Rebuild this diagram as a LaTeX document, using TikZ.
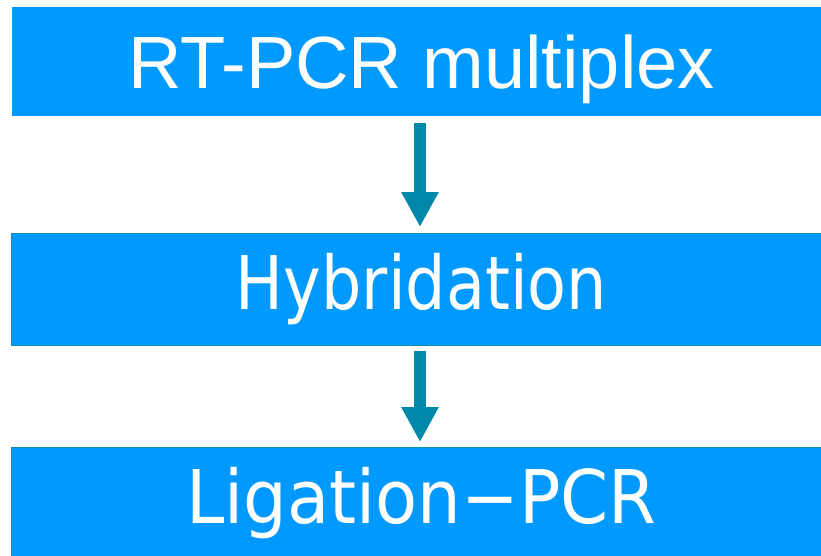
\documentclass[tikz,border=0pt]{standalone}
\usepackage{fontspec}
\usetikzlibrary{arrows.meta}
\newfontfamily\titlefont{Liberation Sans}
\newfontfamily\hybfont[FakeStretch=0.86]{DejaVu Sans}
\newfontfamily\ligfont[FakeStretch=0.93]{DejaVu Sans}
\definecolor{Azure Box}{RGB}{0, 153, 255}
\definecolor{Teal Edge}{RGB}{22, 140, 172}
\definecolor{Teal Arrow}{RGB}{0, 136, 170}

\tikzset{
  etapa/.style={fill=Azure Box, text=white, inner sep=0pt, outer sep=0pt,
    minimum width=819.5pt},
  flecha/.style={draw=Teal Arrow, line width=12pt,
    -{Triangle[width=35pt, length=35pt]}}
}

\begin{document}
\begin{tikzpicture}[x=1pt, y=-1pt]
	\useasboundingbox (0,0) rectangle (821,556);
	\clip (0,0) rectangle (821,556);
	% Dibuja las tres etapas
	\node[etapa, minimum height=109pt, text height=60pt, text depth=5pt,
	  font=\fontsize{74}{80}\selectfont\titlefont]
	  (rtpcr) at (421.5,61.5) {RT-PCR multiplex};
	\node[etapa, draw=Teal Edge, line width=1.3pt, minimum height=111.6pt,
	  text height=50pt, text depth=11pt,
	  font=\fontsize{74}{80}\selectfont\hybfont]
	  (hybrid) at (421.5,289.5) {Hybridation};
	\node[etapa, draw=Teal Edge, line width=1.3pt, minimum height=112pt,
	  text height=50pt, text depth=11.6pt,
	  font=\fontsize{74}{80}\selectfont\ligfont]
	  (ligation) at (421.5,503.8) {Ligation−PCR};
	% Flechas entre etapas
	\draw[flecha, shorten <=7pt, shorten >=6.7pt]
	  ([xshift=-1.5pt]rtpcr.south) -- ([xshift=-1.5pt]hybrid.north);
	\draw[flecha, shorten <=5.7pt, shorten >=5.7pt]
	  ([xshift=-1.5pt]hybrid.south) -- ([xshift=-1.5pt]ligation.north);
\end{tikzpicture}
\end{document}
